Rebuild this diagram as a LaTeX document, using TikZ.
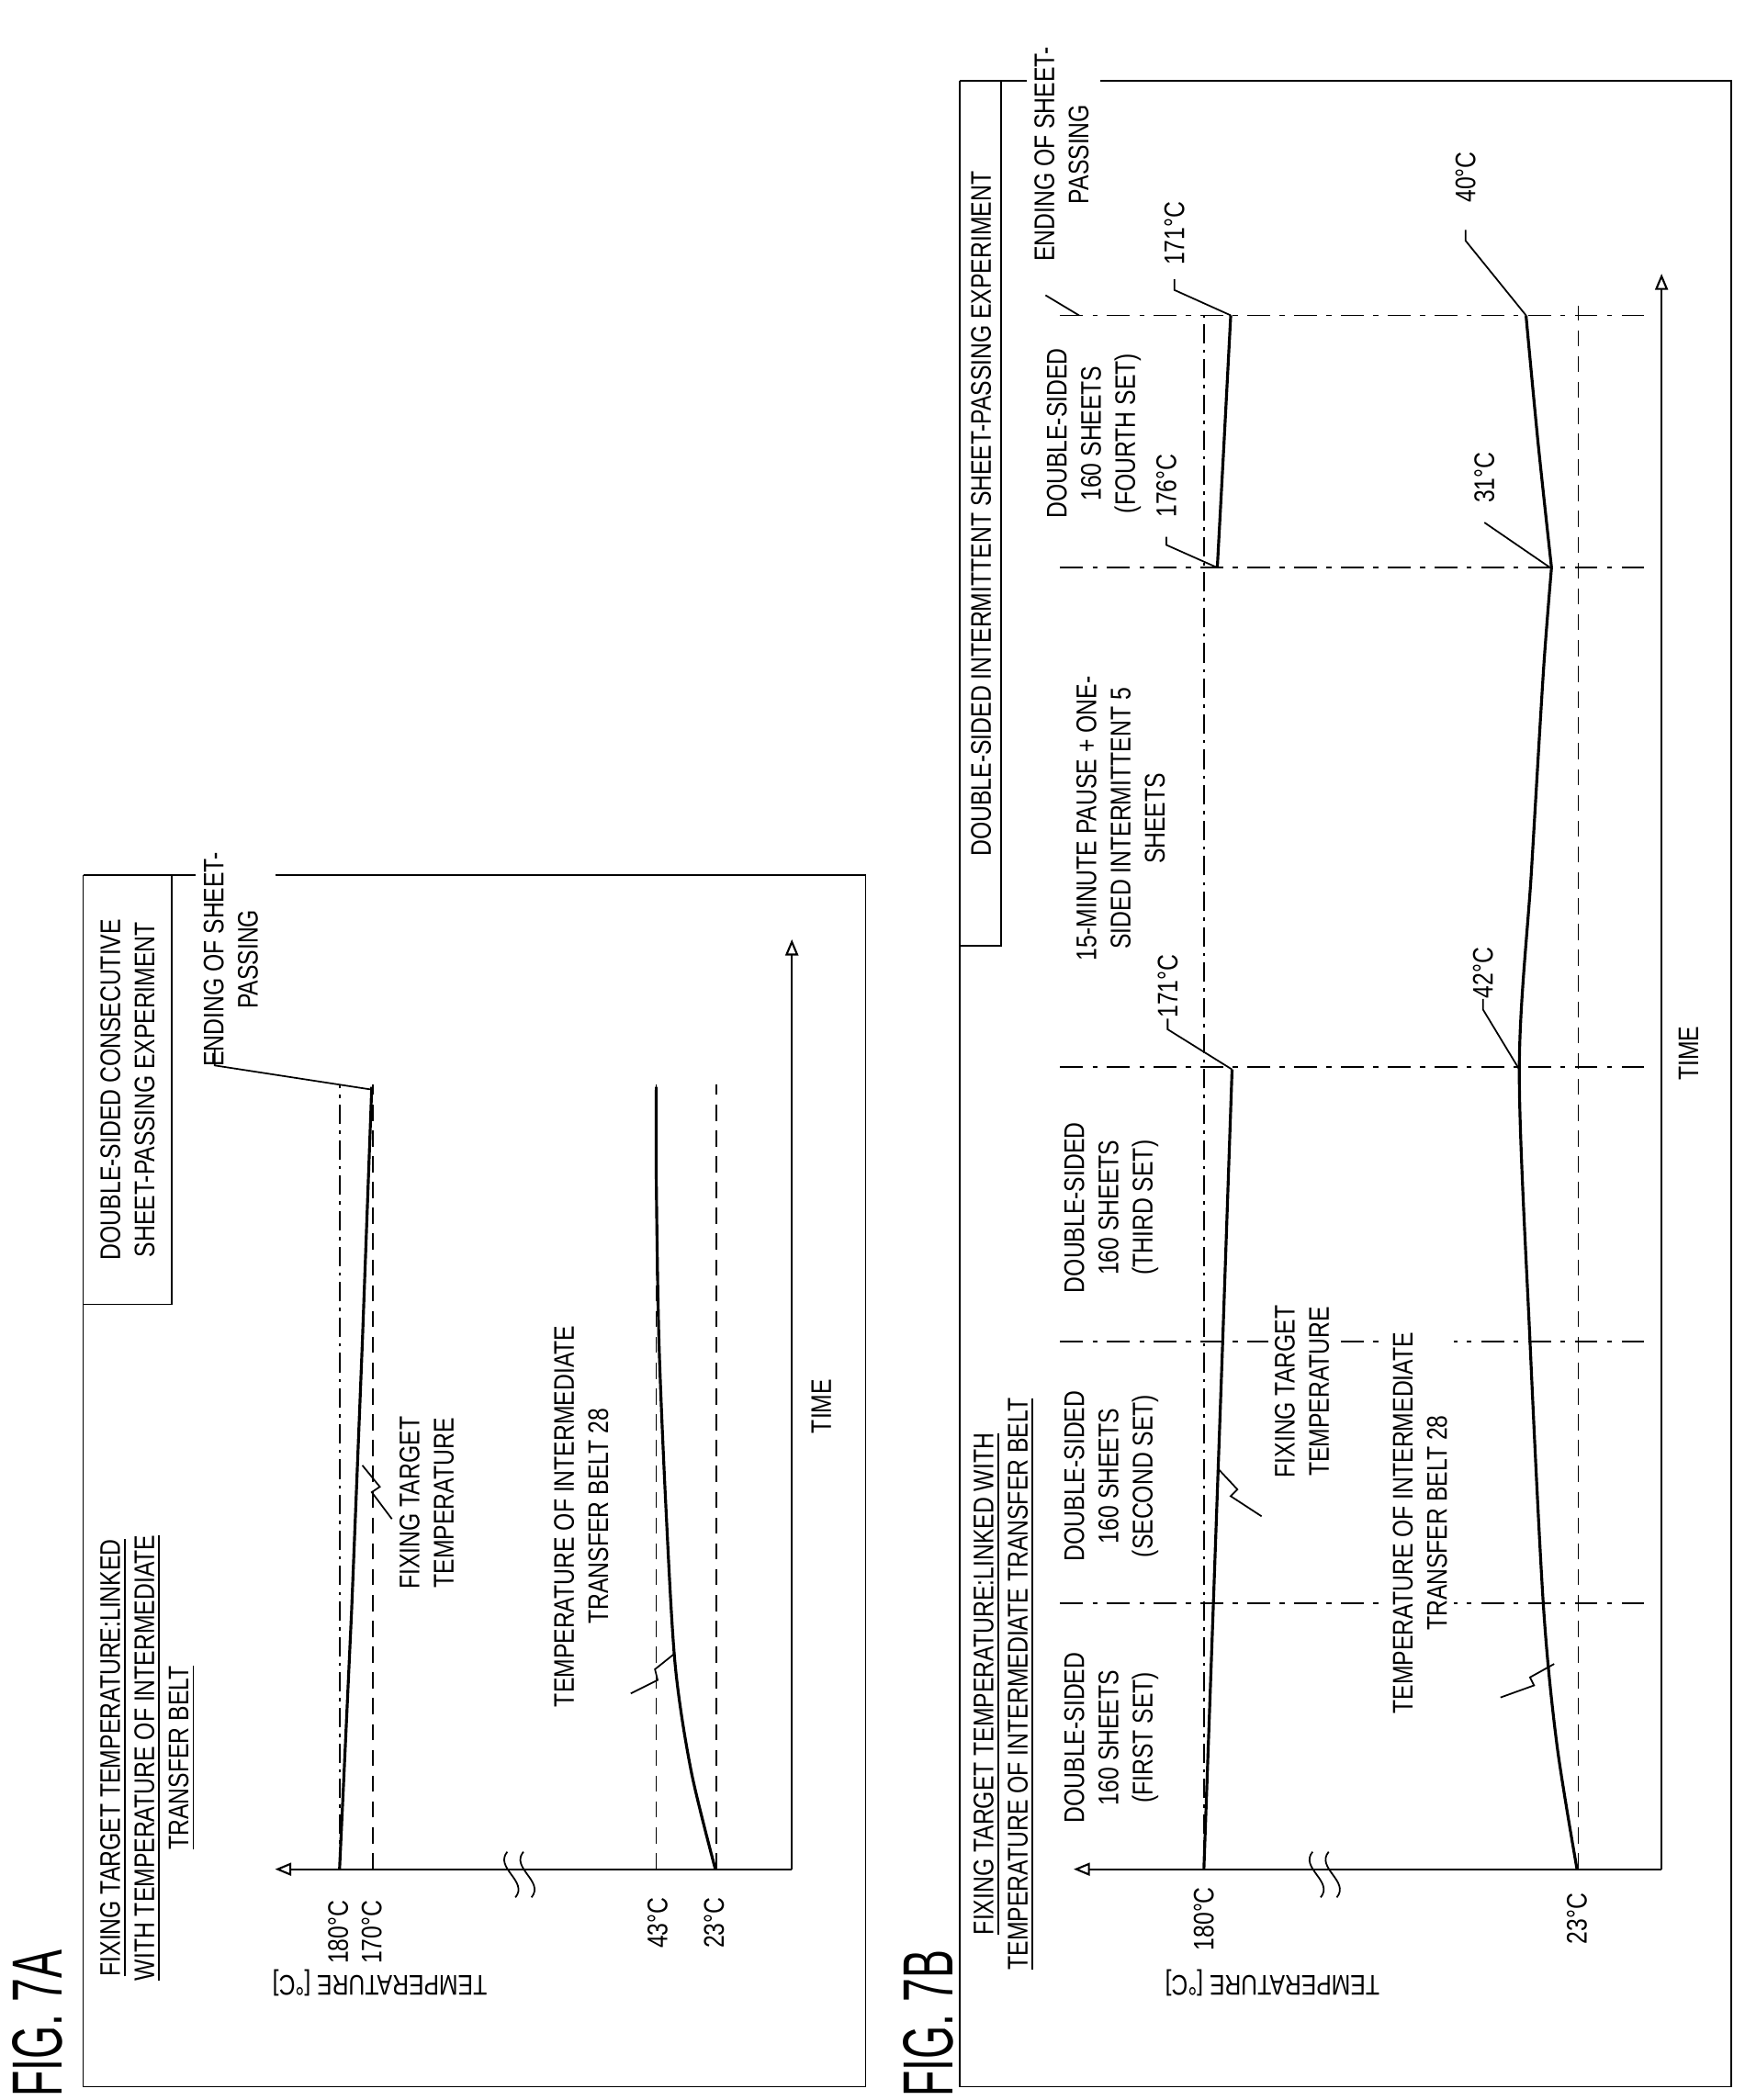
\documentclass[tikz,border=0pt]{standalone}
\usepackage{fontspec}
\setmainfont{Liberation Sans}
\newfontfamily\nar[FakeStretch=0.8]{Liberation Sans}
\newfontfamily\bignar[FakeStretch=0.6]{Liberation Sans}
\usetikzlibrary{arrows.meta}
\begin{document}
\begin{tikzpicture}[x={(0.014615cm,0)},y={(0,-0.014615cm)},
  txt/.style={font=\nar\fontsize{8.8}{10.6}\selectfont,rotate=90,inner sep=0pt,align=center},
  blank/.style={fill=white,inner sep=2pt},
  fig/.style={font=\bignar\fontsize{22}{24}\selectfont,rotate=90,inner sep=0pt},
  ylab/.style={font=\nar\fontsize{8.8}{10.6}\selectfont,rotate=180,inner sep=0pt},
  thin line/.style={line width=0.5pt},
  curve/.style={line width=0.9pt},
  lvl/.style={line width=0.5pt,dashed,dash pattern=on 5pt off 3pt},
  lvldd/.style={line width=0.5pt,dash pattern=on 6pt off 2pt on 1pt off 2pt},
  sep/.style={line width=0.5pt,dash pattern=on 7pt off 3pt on 1.5pt off 3pt},
  axarrow/.style={line width=0.6pt,-{Triangle[open,length=5pt,width=4pt]}}]
\useasboundingbox (0,0) rectangle (1300,1565);
\fill[white] (0,0) rectangle (1300,1565);

% ================= FIG 7A =================
\node[fig] (figA) at (28,1508) {FIG. 7A};
\draw[thin line] (62,652) -- (146,652);
\draw[thin line] (205,652) -- (645,652) -- (645,1555) -- (62,1555) -- (62,652);
\draw[thin line] (128,652) -- (128,972) -- (62,972);
\node[txt] (boxA) at (95,812) {DOUBLE-SIDED CONSECUTIVE\\SHEET-PASSING EXPERIMENT};
\node[txt] (titleA) at (110,1310) {\underline{FIXING TARGET TEMPERATURE:LINKED}\\\underline{WITH TEMPERATURE OF INTERMEDIATE}\\\underline{TRANSFER BELT}};
\node[txt] (endA) at (172,715) {ENDING OF SHEET-\\PASSING};
% axes
\coordinate (oA) at (590,1393);
\coordinate (tA) at (590,700);
\coordinate (yA) at (205,1393);
\draw[axarrow] (oA) -- (tA);
\draw[axarrow] (oA) -- (yA);
\draw[thin line] (378,1380) .. controls (368,1392) and (394,1402) .. (384,1414);
\draw[thin line] (390,1380) .. controls (380,1392) and (406,1402) .. (396,1414);
% levels
\draw[lvldd] (253,1393) -- (253,808);
\draw[lvl] (278,1393) -- (278,808);
\draw[lvl] (489,1393) -- (489,808);
\draw[lvl] (534,1393) -- (534,808);
% curves
\draw[curve] (253,1393) -- (262,1200) -- (270,1000) -- (277,810);
\draw[curve] plot[smooth] coordinates {(533,1393) (515,1320) (503,1240) (496,1120) (491,1000) (489,880) (489,810)};
% labels
\node[txt] (l180A) at (252,1440) {180°C};
\node[txt] (l170A) at (277,1440) {170°C};
\node[txt] (l43A) at (490,1433) {43°C};
\node[txt] (l23A) at (532,1433) {23°C};
\node[ylab] (yttlA) at (283,1478) {TEMPERATURE [°C]};
\node[txt] (timeA) at (612,1048) {TIME};
\node[txt] (fixA) at (318,1120) {FIXING TARGET\\TEMPERATURE};
\node[txt] (beltA) at (433,1130) {TEMPERATURE OF INTERMEDIATE\\TRANSFER BELT 28};
\draw[thin line] (160,782) -- (160,794) -- (277,812);
\draw[thin line] (270,1092) -- (283,1108) -- (277,1112) -- (292,1132);
\draw[thin line] (503,1232) -- (488,1244) -- (490,1252) -- (470,1262);

% ================= FIG 7B =================
\node[fig] (figB) at (692,1508) {FIG. 7B};
\draw[thin line] (715,60) -- (765,60);
\draw[thin line] (820,60) -- (1290,60) -- (1290,1555) -- (715,1555) -- (715,60);
\draw[thin line] (746,60) -- (746,705) -- (715,705);
\node[txt] (boxB) at (731,383) {DOUBLE-SIDED INTERMITTENT SHEET-PASSING EXPERIMENT};
\node[txt] (titleB) at (748,1255) {\underline{FIXING TARGET TEMPERATURE:LINKED WITH}\\\underline{TEMPERATURE OF INTERMEDIATE TRANSFER BELT}};
\node[txt] (endB) at (791,115) {ENDING OF SHEET-\\PASSING};
\draw[thin line] (779,220) -- (804,235);
% axes
\coordinate (oB) at (1238,1393);
\coordinate (tB) at (1238,204);
\coordinate (yB) at (800,1393);
\draw[axarrow] (oB) -- (tB);
\draw[axarrow] (oB) -- (yB);
\draw[thin line] (978,1380) .. controls (968,1392) and (994,1402) .. (984,1414);
\draw[thin line] (990,1380) .. controls (980,1392) and (1006,1402) .. (996,1414);
% separators
\foreach \s in {1195,1000,795,423,235} \draw[sep] (790,\s) -- (1228,\s);
% levels
\draw[lvldd] (897,1393) -- (897,235);
\draw[lvl] (1176,1393) -- (1176,228);
% curves
\draw[curve] (897,1393) -- (904,1197) -- (911,1000) -- (918,797);
\draw[curve] (907,423) -- (912,330) -- (917,235);
\draw[curve] plot[smooth] coordinates {(1175,1393) (1160,1300) (1150,1197) (1140,1000) (1132,797) (1141,650) (1150,500) (1156,423)};
\draw[curve] plot[smooth] coordinates {(1156,423) (1146,330) (1137,235)};
% labels
\node[txt] (l180B) at (897,1430) {180°C};
\node[txt] (l23B) at (1175,1430) {23°C};
\node[ylab] (yttlB) at (948,1478) {TEMPERATURE [°C]};
\node[txt] (timeB) at (1258,785) {TIME};
\node[txt] (s1) at (828,1295) {DOUBLE-SIDED\\160 SHEETS\\(FIRST SET)};
\node[txt] (s2) at (828,1100) {DOUBLE-SIDED\\160 SHEETS\\(SECOND SET)};
\node[txt] (s3) at (828,900) {DOUBLE-SIDED\\160 SHEETS\\(THIRD SET)};
\node[txt] (s4) at (835,610) {15-MINUTE PAUSE + ONE-\\SIDED INTERMITTENT 5\\SHEETS};
\node[txt] (s5) at (815,323) {DOUBLE-SIDED\\160 SHEETS\\(FOURTH SET)};
\node[txt,blank] (fixB) at (970,1037) {FIXING TARGET\\TEMPERATURE};
\node[txt,blank] (beltB) at (1058,1135) {TEMPERATURE OF INTERMEDIATE\\TRANSFER BELT 28};
\draw[thin line] (908,1095) -- (922,1110) -- (917,1115) -- (940,1130);
\draw[thin line] (1158,1240) -- (1140,1250) -- (1143,1256) -- (1118,1265);
\node[txt] (t171a) at (870,735) {171°C};
\node[txt] (t42) at (1105,725) {42°C};
\node[txt] (t176) at (869,362) {176°C};
\node[txt] (t31) at (1106,356) {31°C};
\node[txt] (t171b) at (875,174) {171°C};
\node[txt] (t40) at (1092,132) {40°C};
\draw[thin line] (t171a.west) -- ++(0,8) -- (918,797);
\draw[thin line] (t42.west) -- ++(0,8) -- (1132,797);
\draw[thin line] (t176.west) ++(0,14) -- ++(0,6) -- (907,423);
\draw[thin line] (t31.west) ++(0,14) -- (1155,423);
\draw[thin line] (t171b.west) ++(0,10) -- ++(0,8) -- (917,235);
\draw[thin line] (t40.west) ++(0,20) -- ++(0,8) -- (1137,235);
\end{tikzpicture}
\end{document}
